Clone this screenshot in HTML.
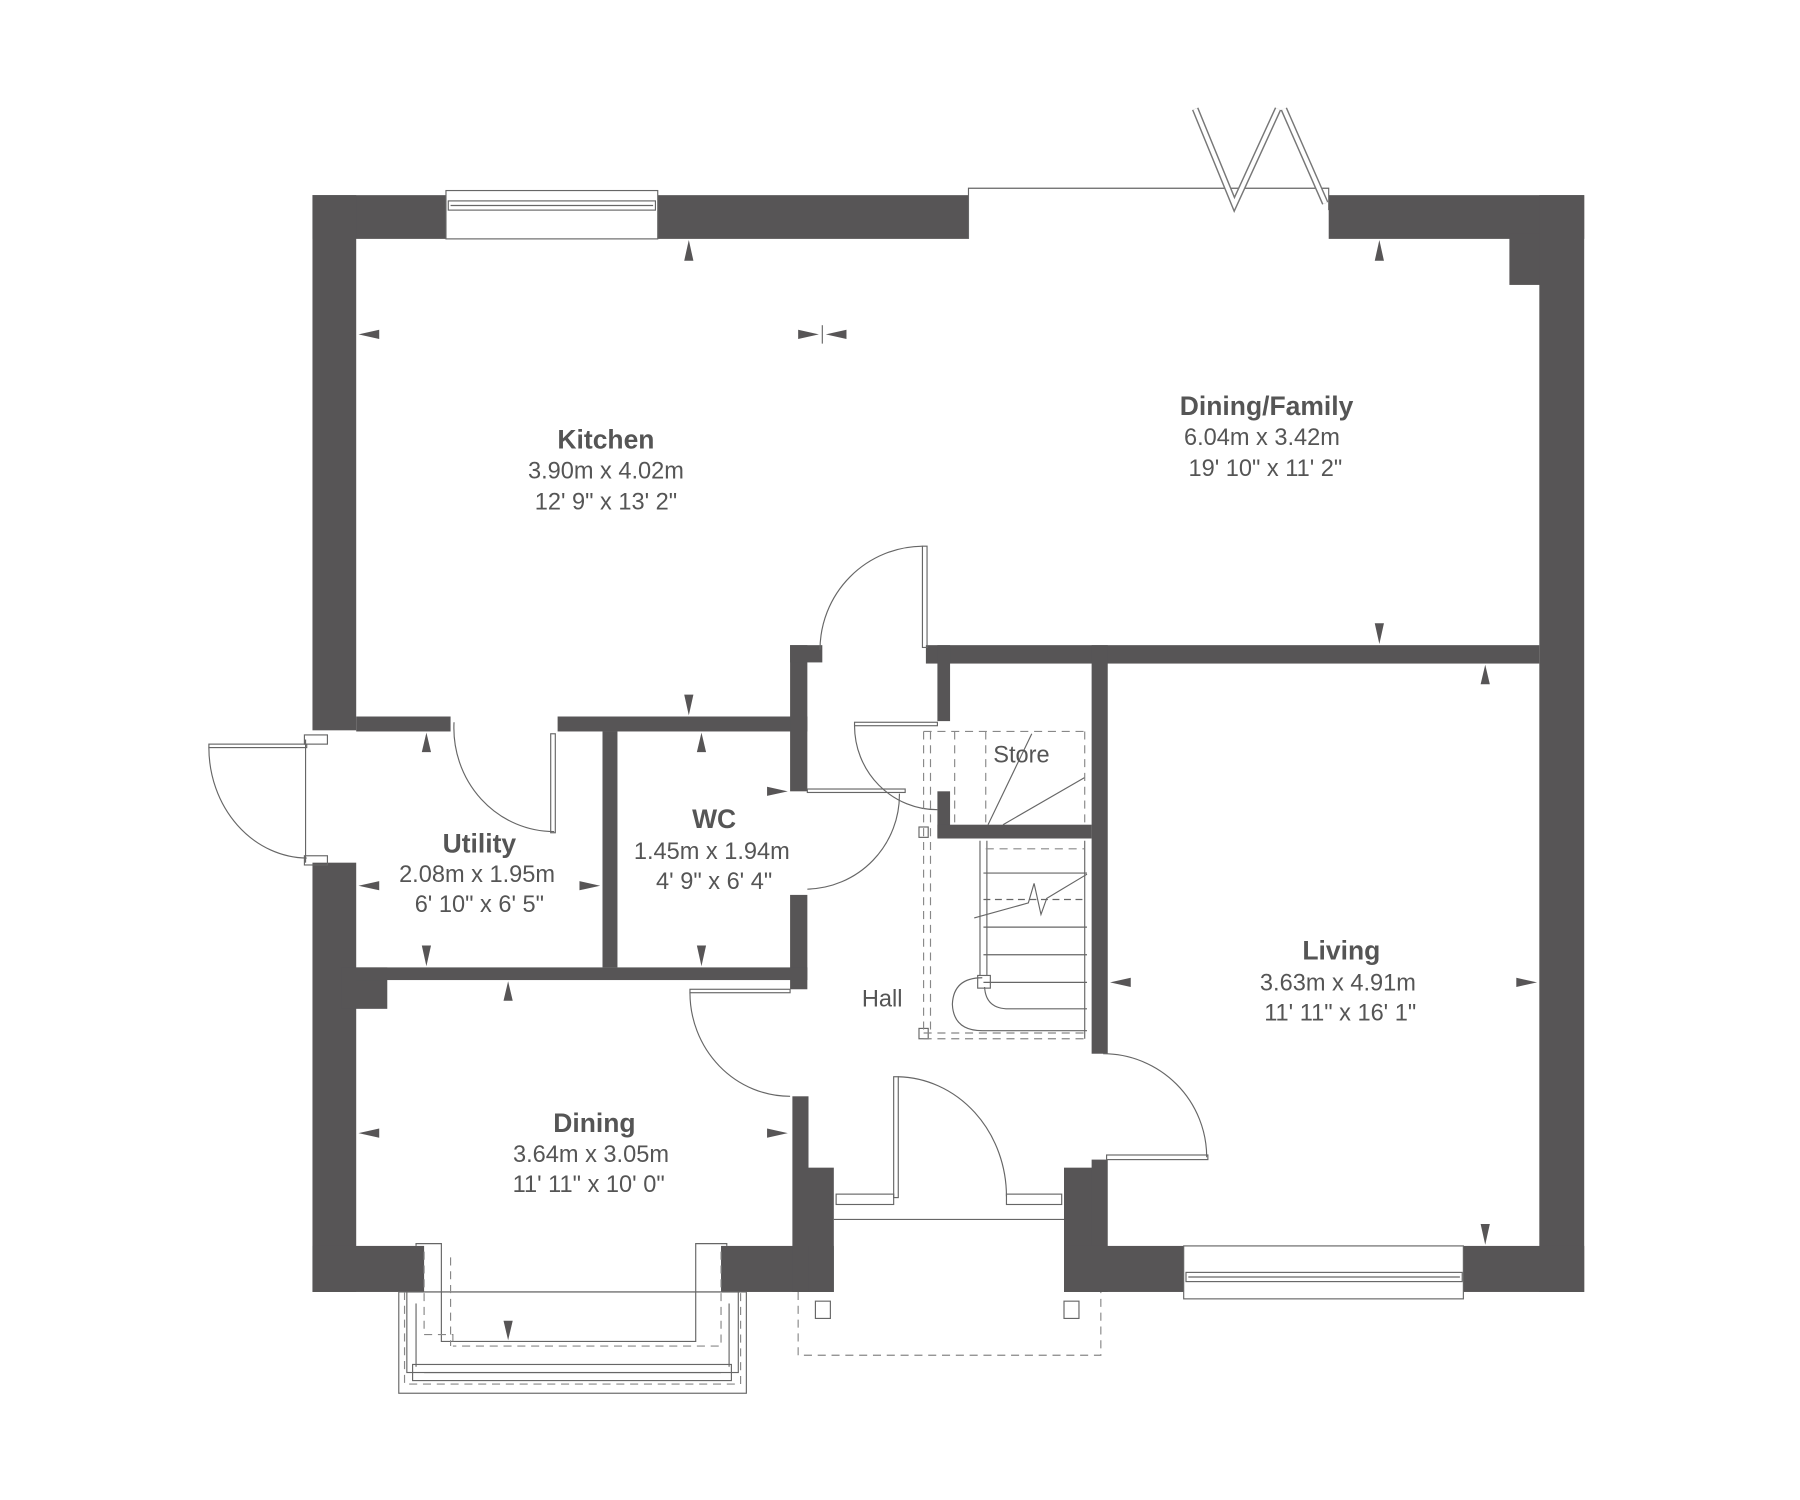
<!DOCTYPE html>
<html><head><meta charset="utf-8"><style>
html,body{margin:0;padding:0;background:#fff;}
svg{display:block;}
text{font-family:"Liberation Sans",Arial,sans-serif;fill:#555;text-anchor:middle;}
.b{font-weight:bold;font-size:23px;}
.d{font-size:20.5px;}
</style></head><body>
<svg width="1800" height="1500" viewBox="3.5 2.6 1564 1303" xmlns="http://www.w3.org/2000/svg">
<g fill="#575556">
<rect x="275" y="172" width="116" height="38"/>
<rect x="575" y="172" width="270" height="38"/>
<rect x="1158" y="172" width="222" height="38"/>
<rect x="1315" y="205" width="30" height="45"/>
<rect x="1341" y="172" width="39" height="953"/>
<rect x="275" y="172" width="38" height="465"/>
<rect x="275" y="752" width="38" height="373"/>
<rect x="300" y="843" width="40" height="36"/>
<rect x="275" y="1085" width="97" height="40"/>
<rect x="630" y="1085" width="98" height="40"/>
<rect x="692" y="955" width="14" height="170"/>
<rect x="706" y="1017" width="22" height="108"/>
<rect x="928" y="1017" width="37" height="108"/>
<rect x="952" y="1010" width="14" height="115"/>
<rect x="928" y="1085" width="104" height="40"/>
<rect x="1275" y="1085" width="105" height="40"/>
<rect x="808" y="563" width="533" height="16"/>
<rect x="952" y="563" width="14" height="355"/>
<rect x="818" y="563" width="11" height="66"/>
<rect x="818" y="690" width="11" height="40"/>
<rect x="818" y="719" width="134" height="12"/>
<rect x="313" y="625" width="82" height="13"/>
<rect x="488" y="625" width="217" height="13"/>
<rect x="690" y="563" width="15" height="127"/>
<rect x="690" y="563" width="28" height="15"/>
<rect x="690" y="780" width="15" height="82"/>
<rect x="527" y="638" width="13" height="205"/>
<rect x="313" y="843" width="392" height="11"/>
</g>
<g fill="none" stroke="#666" stroke-width="1">
<rect x="391" y="168" width="184" height="42"/>
<rect x="393" y="177" width="180" height="8"/>
<line x1="395" y1="181" x2="571" y2="181"/>
<polyline points="845,210 845,166 1158,166 1158,185"/>
<polyline points="1042,97 1076,180 1114,97" stroke-width="6" stroke="#777"/>
<polyline points="1042,97 1076,180 1114,97" stroke-width="3.5" stroke="#fff"/>
<polyline points="1119,97 1155,179" stroke-width="6" stroke="#777"/>
<polyline points="1119,97 1155,179" stroke-width="3.5" stroke="#fff"/>
<rect x="805" y="477" width="4" height="88"/>
<path d="M805,477 A90,90 0 0 0 716,567"/>
<rect x="482" y="640" width="4" height="86"/>
<path d="M398,630 A87,90 0 0 0 485,725"/>
<rect x="185" y="649" width="85" height="3"/>
<path d="M185,652 A86,96 0 0 0 270,748"/>
<rect x="268" y="641" width="20" height="8"/>
<rect x="268" y="746" width="20" height="8"/>
<line x1="269" y1="645" x2="269" y2="752"/>
<rect x="705" y="688" width="85" height="3"/>
<path d="M785,692 A82,82 0 0 1 705,775"/>
<rect x="746" y="630" width="72" height="3"/>
<path d="M746,633 A72,73 0 0 0 818,706"/>
<rect x="603" y="862" width="87" height="3"/>
<path d="M603,865 A87,90 0 0 0 690,955"/>
<rect x="780" y="938" width="4" height="105"/>
<path d="M784,938 A96,104 0 0 1 878,1042"/>
<rect x="730" y="1040" width="50" height="9"/>
<rect x="878" y="1040" width="48" height="9"/>
<line x1="728" y1="1062" x2="928" y2="1062"/>
<rect x="965" y="1006" width="88" height="4"/>
<path d="M962,918 A90,90 0 0 1 1052,1008"/>
<rect x="1032" y="1085" width="243" height="46"/>
<rect x="1034" y="1108" width="240" height="8"/>
<line x1="1036" y1="1112" x2="1272" y2="1112"/>
<polyline points="365,1085 365,1083 387,1083 387,1168 608,1168 608,1083 635,1083 635,1085"/>
<rect x="350" y="1125" width="302" height="88"/>
<rect x="357" y="1125" width="288" height="70"/>
<rect x="362" y="1188" width="277" height="14"/>
<line x1="372" y1="1195" x2="630" y2="1195"/>
<line x1="365" y1="1135" x2="365" y2="1190"/>
<line x1="637" y1="1135" x2="637" y2="1190"/>
<rect x="712" y="1133" width="13" height="15"/>
<rect x="928" y="1133" width="13" height="15"/>
<line x1="858" y1="761" x2="948" y2="761"/>
<line x1="858" y1="784" x2="948" y2="784" stroke-dasharray="6,4"/>
<line x1="858" y1="808" x2="948" y2="808"/>
<line x1="858" y1="832" x2="948" y2="832"/>
<line x1="858" y1="856" x2="948" y2="856"/>
<path d="M859,860 Q860,879 880,879 L948,879"/>
<path d="M857,852 Q832,852 831,875 Q832,898 857,898 L948,898"/>
<rect x="853" y="850" width="11" height="11"/>
<line x1="855" y1="733" x2="855" y2="850"/>
<line x1="861" y1="733" x2="861" y2="850"/>
<line x1="946" y1="733" x2="946" y2="905"/>
<polyline points="850,800 897,787 902,770 908,797 913,783 948,762"/>
<line x1="862" y1="719" x2="900" y2="640"/>
<line x1="875" y1="719" x2="946" y2="678"/>
<rect x="802" y="721" width="8" height="9"/>
<rect x="802" y="896" width="8" height="9"/>
<line x1="718" y1="285" x2="718" y2="301"/>
</g>
<g fill="none" stroke="#888" stroke-width="1" stroke-dasharray="7,5">
<path d="M806,638 L946,638 M806,638 L806,900 M812,638 L812,900 M833,638 L833,719 M860,638 L860,719 M806,900 L946,900 M806,905 L948,905 M860,740 L946,740 M946,638 L946,719"/>
<path d="M372,1090 L372,1162 L397,1162 L397,1172 M630,1090 L630,1172 L397,1172 M395,1095 L395,1172"/>
<polyline points="697,1125 697,1180 960,1180 960,1125"/>
<polyline points="355,1125 355,1205 647,1205 647,1125"/>
</g>
<g fill="#575556">
<polygon points="598,229 606,229 602,211"/>
<polygon points="1198,229 1206,229 1202,211"/>
<polygon points="315,293 333,289 333,297"/>
<polygon points="697,289 697,297 715,293"/>
<polygon points="739,289 739,297 721,293"/>
<polygon points="598,606 606,606 602,624"/>
<polygon points="1198,544 1206,544 1202,562"/>
<polygon points="1290,597 1298,597 1294,580"/>
<polygon points="1290,1066 1298,1066 1294,1084"/>
<polygon points="968,856 986,852 986,860"/>
<polygon points="1339,856 1321,852 1321,860"/>
<polygon points="370,656 378,656 374,639"/>
<polygon points="370,824 378,824 374,842"/>
<polygon points="609,656 617,656 613,639"/>
<polygon points="609,824 617,824 613,842"/>
<polygon points="315,772 333,768 333,776"/>
<polygon points="525,772 507,768 507,776"/>
<polygon points="688,690 670,686 670,694"/>
<polygon points="441,872 449,872 445,855"/>
<polygon points="315,987 333,983 333,991"/>
<polygon points="688,987 670,983 670,991"/>
<polygon points="441,1150 449,1150 445,1167"/>
</g>
<text class="b" x="530" y="392">Kitchen</text>
<text class="d" x="530" y="418">3.90m x 4.02m</text>
<text class="d" x="530" y="445">12' 9" x 13' 2"</text>
<text class="b" x="1104" y="363">Dining/Family</text>
<text class="d" x="1100" y="389">6.04m x 3.42m</text>
<text class="d" x="1103" y="416">19' 10" x 11' 2"</text>
<text class="b" x="420" y="743">Utility</text>
<text class="d" x="418" y="769">2.08m x 1.95m</text>
<text class="d" x="420" y="795">6' 10" x 6' 5"</text>
<text class="b" x="624" y="722">WC</text>
<text class="d" x="622" y="749">1.45m x 1.94m</text>
<text class="d" x="624" y="775">4' 9" x 6' 4"</text>
<text class="d" x="891" y="665">Store</text>
<text class="d" x="770" y="877">Hall</text>
<text class="b" x="1169" y="836">Living</text>
<text class="d" x="1166" y="863">3.63m x 4.91m</text>
<text class="d" x="1168" y="889">11' 11" x 16' 1"</text>
<text class="b" x="520" y="986">Dining</text>
<text class="d" x="517" y="1012">3.64m x 3.05m</text>
<text class="d" x="515" y="1038">11' 11" x 10' 0"</text>
</svg>
</body></html>
